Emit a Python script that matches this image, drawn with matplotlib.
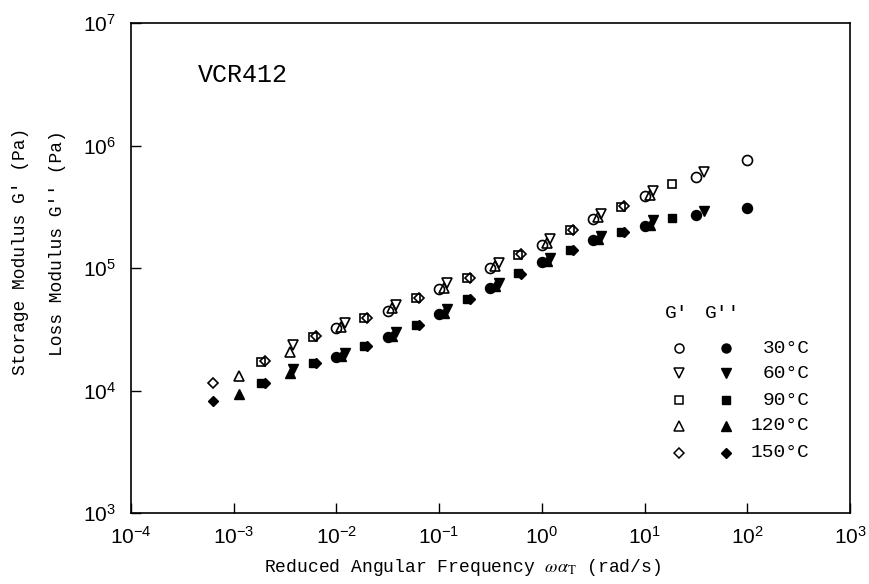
import matplotlib
matplotlib.use("Agg")
import matplotlib.pyplot as plt
from matplotlib.ticker import LogLocator, NullLocator

# ---- data ----
temps = ["30", "60", "90", "120", "150"]
markers = ["o", "v", "s", "^", "D"]

freq_30 = [0.01, 0.0316, 0.1, 0.316, 1.0, 3.16, 10, 31.6, 100]
Gp_30 = [3.22e4, 4.46e4, 6.7e4, 9.95e4, 1.54e5, 2.52e5, 3.85e5, 5.56e5, 7.62e5]
Gpp_30 = [1.87e4, 2.72e4, 4.21e4, 6.87e4, 1.12e5, 1.68e5, 2.22e5, 2.71e5, 3.1e5]

freq_60 = [0.0038, 0.012, 0.038, 0.12, 0.38, 1.2, 3.8, 12, 38]
Gp_60 = [2.35e4, 3.57e4, 4.99e4, 7.5e4, 1.09e5, 1.71e5, 2.76e5, 4.24e5, 6.1e5]
Gpp_60 = [1.49e4, 2.02e4, 3.02e4, 4.6e4, 7.6e4, 1.2e5, 1.82e5, 2.47e5, 2.94e5]

freq_90 = [0.00186, 0.0059, 0.0186, 0.059, 0.186, 0.59, 1.86, 5.9, 18.6]
Gp_90 = [1.72e4, 2.75e4, 3.88e4, 5.66e4, 8.25e4, 1.28e5, 2.04e5, 3.16e5, 4.86e5]
Gpp_90 = [1.16e4, 1.67e4, 2.31e4, 3.43e4, 5.55e4, 9.06e4, 1.4e5, 1.98e5, 2.55e5]

freq_120 = [0.00112, 0.0035, 0.0112, 0.035, 0.112, 0.35, 1.12, 3.5, 11.2]
Gp_120 = [1.31e4, 2.07e4, 3.3e4, 4.7e4, 6.9e4, 1.03e5, 1.6e5, 2.6e5, 3.95e5]
Gpp_120 = [9.3e3, 1.38e4, 1.9e4, 2.8e4, 4.3e4, 7.1e4, 1.15e5, 1.72e5, 2.25e5]

freq_150 = [0.00063, 0.002, 0.0063, 0.02, 0.063, 0.2, 0.63, 2.0, 6.3]
Gp_150 = [1.16e4, 1.74e4, 2.78e4, 3.92e4, 5.7e4, 8.3e4, 1.29e5, 2.05e5, 3.18e5]
Gpp_150 = [8.2e3, 1.16e4, 1.67e4, 2.31e4, 3.43e4, 5.55e4, 9.0e4, 1.4e5, 1.98e5]

freqs = [freq_30, freq_60, freq_90, freq_120, freq_150]
Gps = [Gp_30, Gp_60, Gp_90, Gp_120, Gp_150]
Gpps = [Gpp_30, Gpp_60, Gpp_90, Gpp_120, Gpp_150]

plt.rcParams["font.family"] = ["Liberation Sans", "DejaVu Sans"]
plt.rcParams["mathtext.fontset"] = "stix"
MONO = ["Liberation Mono", "DejaVu Sans Mono"]

fig = plt.figure(figsize=(8.7, 5.84), dpi=100)
ax = fig.add_axes([131 / 870, 71 / 584, 719 / 870, 490 / 584])

msize = {"o": 7.2, "v": 7.5, "s": 6.3, "^": 7.5, "D": 5.6}
for f, gp, gpp, m in zip(freqs, Gps, Gpps, markers):
    ax.plot(f, gp, linestyle="none", marker=m, ms=msize[m], mfc="none",
            mec="black", mew=1.2)
    ax.plot(f, gpp, linestyle="none", marker=m, ms=msize[m], mfc="black",
            mec="black", mew=1.0)

ax.set_xscale("log")
ax.set_yscale("log")
ax.set_xlim(1e-4, 1e3)
ax.set_ylim(1e3, 1e7)
ax.xaxis.set_major_locator(LogLocator(base=10, numticks=20))
ax.yaxis.set_major_locator(LogLocator(base=10, numticks=20))
ax.xaxis.set_minor_locator(NullLocator())
ax.yaxis.set_minor_locator(NullLocator())
ax.tick_params(axis="both", which="major", direction="in", length=7,
               width=1.0, labelsize=15, top=False, right=False)
ax.tick_params(axis="x", pad=9)
ax.tick_params(axis="y", pad=11)
for sp in ax.spines.values():
    sp.set_linewidth(1.2)

# titles / labels
ax.text(0.093, 0.894, "VCR412", transform=ax.transAxes, family=MONO,
        fontsize=18, ha="left", va="center")
fig.text(463 / 870, 1 - 568 / 584,
         r"Reduced Angular Frequency $\omega\alpha_{\rm T}$ (rad/s)",
         family=MONO, fontsize=13, ha="center", va="center")
fig.text(21 / 870, 1 - 251 / 584, "Storage Modulus G' (Pa)", family=MONO,
         fontsize=13, rotation=90, ha="center", va="center")
fig.text(57 / 870, 1 - 243 / 584, "Loss Modulus G'' (Pa)", family=MONO,
         fontsize=13, rotation=90, ha="center", va="center")

# legend drawn by hand
ax.text(0.759, 0.4076, "G'", transform=ax.transAxes, family=MONO,
        fontsize=14, ha="center", va="center")
ax.text(0.823, 0.4076, "G''", transform=ax.transAxes, family=MONO,
        fontsize=14, ha="center", va="center")
row_y = [0.3361, 0.2851, 0.2306, 0.1776, 0.1231]
lsize = {"o": 6.5, "v": 6.5, "s": 5.5, "^": 6.5, "D": 5.0}
for t, m, yy in zip(temps, markers, row_y):
    ax.plot([0.7626], [yy], transform=ax.transAxes, linestyle="none",
            marker=m, ms=lsize[m], mfc="none", mec="black", mew=1.1,
            clip_on=False)
    ax.plot([0.8275], [yy], transform=ax.transAxes, linestyle="none",
            marker=m, ms=lsize[m], mfc="black", mec="black", mew=1.0,
            clip_on=False)
    ax.text(0.9437, yy, t + "\u00b0C", transform=ax.transAxes, family=MONO,
            fontsize=14, ha="right", va="center")

fig.savefig("out.png", dpi=100)
